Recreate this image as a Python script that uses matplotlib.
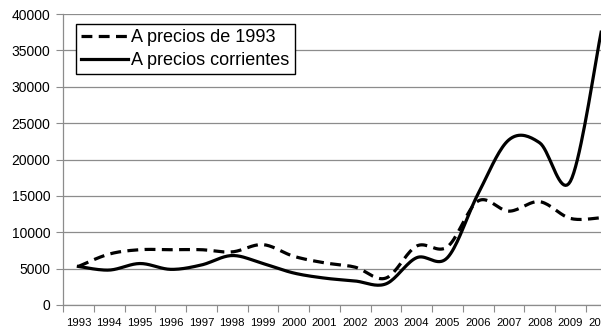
import numpy as np
import matplotlib.pyplot as plt

plt.rcParams['font.family'] = ['Liberation Sans', 'DejaVu Sans']

years = [str(y) for y in range(1993, 2011)]
precios_1993 = [5300, 7000, 7600, 7600, 7600, 7300, 8300, 6700, 5800, 5200,
                3700, 8100, 8000, 14300, 12900, 14200, 11900, 12000]
precios_corrientes = [5300, 4800, 5700, 4900, 5500, 6800, 5700, 4400, 3700, 3300,
                      2900, 6500, 6500, 15300, 22700, 22300, 17000, 37500]


def smooth(xs, ys, n=20):
    # bezier smoothing like the spreadsheet "smoothed line" option
    xs = np.asarray(xs, float)
    ys = np.asarray(ys, float)
    px = np.concatenate([[xs[0]], xs, [xs[-1]]])
    py = np.concatenate([[ys[0]], ys, [ys[-1]]])
    outx, outy = [], []
    t = np.linspace(0, 1, n)
    for i in range(1, len(px) - 2):
        p0 = np.array([px[i], py[i]])
        p3 = np.array([px[i + 1], py[i + 1]])
        c1 = p0 + (np.array([px[i + 1], py[i + 1]]) - np.array([px[i - 1], py[i - 1]])) / 6
        c2 = p3 - (np.array([px[i + 2], py[i + 2]]) - np.array([px[i], py[i]])) / 6
        bx = (1 - t)**3 * p0[0] + 3 * (1 - t)**2 * t * c1[0] + 3 * (1 - t) * t**2 * c2[0] + t**3 * p3[0]
        by = (1 - t)**3 * p0[1] + 3 * (1 - t)**2 * t * c1[1] + 3 * (1 - t) * t**2 * c2[1] + t**3 * p3[1]
        outx.extend(bx)
        outy.extend(by)
    return np.array(outx), np.array(outy)


fig = plt.figure(figsize=(6.01, 3.31), dpi=100)
# plot area runs past the right edge of the picture, as in the original
ax = fig.add_axes([63/601, 26/331, 553.5/601, 291/331])

xpos = np.arange(len(years)) + 0.5
sx, sy = smooth(xpos, precios_1993)
ax.plot(sx, sy, color='black', lw=2.3, linestyle=(0, (3.4, 2.0)),
        label='A precios de 1993')
sx, sy = smooth(xpos, precios_corrientes)
ax.plot(sx, sy, color='black', lw=2.3, label='A precios corrientes')

ax.set_xlim(0, len(years))
ax.set_ylim(0, 40000)
ax.set_yticks(np.arange(0, 40001, 5000))
ax.yaxis.grid(True, color='#8c8c8c', lw=0.9)
ax.set_axisbelow(True)

ax.set_xticks(np.arange(0, len(years) + 1))
ax.set_xticklabels([])
ax.set_xticks(xpos, minor=True)
ax.set_xticklabels(years, minor=True, fontsize=8.2)
ax.tick_params(axis='x', which='major', length=5, color='#8c8c8c', direction='out')
ax.tick_params(axis='x', which='minor', length=0, pad=9)
ax.tick_params(axis='y', length=5, color='#8c8c8c', labelsize=10, pad=4)

for s in ['top', 'right']:
    ax.spines[s].set_visible(False)
for s in ['left', 'bottom']:
    ax.spines[s].set_color('#8c8c8c')
    ax.spines[s].set_linewidth(0.9)

leg = ax.legend(loc='upper left', bbox_to_anchor=(76/601, 1 - 24/331),
                bbox_transform=fig.transFigure, borderaxespad=0,
                fancybox=False, edgecolor='black', framealpha=1,
                fontsize=13, handlelength=2.6, handletextpad=0.15,
                labelspacing=0.3, borderpad=0.3)
leg.get_frame().set_linewidth(1.0)

fig.savefig('out.png', dpi=100)
